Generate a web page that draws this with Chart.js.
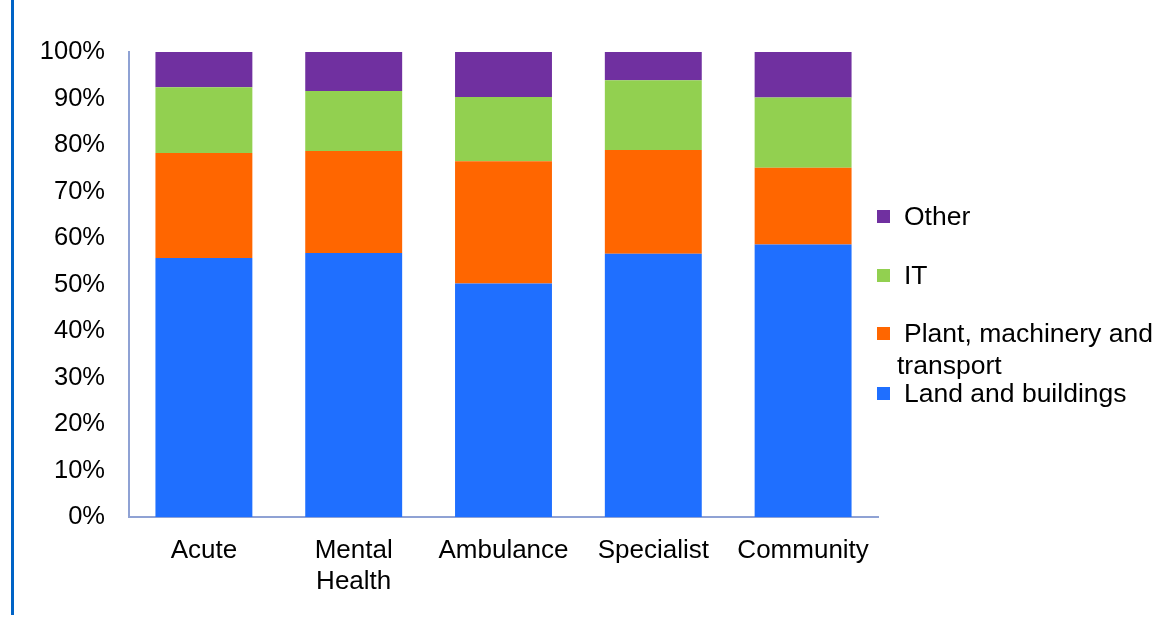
<!DOCTYPE html>
<html>
<head>
<meta charset="utf-8">
<script src="https://cdn.jsdelivr.net/npm/chart.js"></script>
<style>
  html, body { margin: 0; padding: 0; background: #fff; }
  #wrap { position: relative; width: 1155px; height: 619px; overflow: hidden; }
  #leftbar { position: absolute; left: 11px; top: 0; width: 3px; height: 615px; background: #0063c6; }
  canvas { position: absolute; left: 0; top: 0; }
  .lg { position: absolute; font-family: "Liberation Sans", Arial, sans-serif; font-size: 26.5px; color: #000; line-height: 32px; }
  .lg .sw { position: absolute; left: 0; width: 13px; height: 13px; }
  .lg .tx { position: absolute; left: 27px; white-space: nowrap; }
</style>
</head>
<body>
<div id="wrap">
  <div id="leftbar"></div>
  <canvas id="c" width="1155" height="619"></canvas>
  <div id="legend"></div>
</div>
<script>
const categories = [["Acute"], ["Mental", "Health"], ["Ambulance"], ["Specialist"], ["Community"]];
const seriesNames = ["Land and buildings", "Plant, machinery and transport", "IT", "Other"];
const landValues  = [55.7, 56.8, 50.2, 56.6, 58.6];
const plantValues = [22.6, 21.9, 26.3, 22.3, 16.5];
const itValues    = [14.1, 12.9, 13.8, 15.0, 15.1];
const otherValues = [7.6, 8.4, 9.7, 6.1, 9.8];
const seriesColors = ["#1f6fff", "#ff6600", "#92d050", "#7030a0"];
const yTicks = [0, 10, 20, 30, 40, 50, 60, 70, 80, 90, 100];

const FONT = '"Liberation Sans", Arial, sans-serif';
const allValues = [landValues, plantValues, itValues, otherValues];

const chart = new Chart(document.getElementById('c'), {
  type: 'bar',
  data: {
    labels: categories,
    datasets: seriesNames.map((n, i) => ({
      label: n,
      data: allValues[i],
      backgroundColor: seriesColors[i],
      borderWidth: 0,
      categoryPercentage: 1,
      barPercentage: 0.647
    }))
  },
  options: {
    responsive: false,
    devicePixelRatio: 1,
    animation: false,
    layout: { padding: { left: 0, right: 277, top: 52, bottom: 0 } },
    plugins: { legend: { display: false }, tooltip: { enabled: false } },
    scales: {
      x: {
        stacked: true,
        grid: { display: false, drawTicks: false },
        border: { display: true, color: '#8fa2d4', width: 2 },
        ticks: { color: '#000', font: { family: FONT, size: 26 }, padding: 18, maxRotation: 0, autoSkip: false },
        afterFit: s => { s.height = 102; }
      },
      y: {
        stacked: true,
        min: 0, max: 100,
        afterBuildTicks: s => { s.ticks = yTicks.map(v => ({ value: v })); },
        grid: { display: false, drawTicks: false },
        border: { display: true, color: '#8fa2d4', width: 2 },
        ticks: { color: '#000', font: { family: FONT, size: 25.5 }, padding: 24, callback: v => v + '%' },
        afterFit: s => { s.width = 129; }
      }
    }
  }
});

// HTML legend (reverse order like the reference)
const legendPos = [
  { idx: 3, top: 200 },
  { idx: 2, top: 259 },
  { idx: 1, top: 317 },
  { idx: 0, top: 377 }
];
const lg = document.getElementById('legend');
legendPos.forEach(p => {
  const d = document.createElement('div');
  d.className = 'lg';
  d.style.left = '877px';
  d.style.top = p.top + 'px';
  const sw = document.createElement('div');
  sw.className = 'sw';
  sw.style.background = seriesColors[p.idx];
  sw.style.top = '10px';
  d.appendChild(sw);
  const name = seriesNames[p.idx];
  if (p.idx === 1) {
    const t1 = document.createElement('div');
    t1.className = 'tx';
    t1.textContent = 'Plant, machinery and';
    d.appendChild(t1);
    const t2 = document.createElement('div');
    t2.className = 'tx';
    t2.style.left = '20px';
    t2.style.top = '32px';
    t2.textContent = 'transport';
    d.appendChild(t2);
  } else {
    const t = document.createElement('div');
    t.className = 'tx';
    t.textContent = name;
    d.appendChild(t);
  }
  lg.appendChild(d);
});
</script>
</body>
</html>
